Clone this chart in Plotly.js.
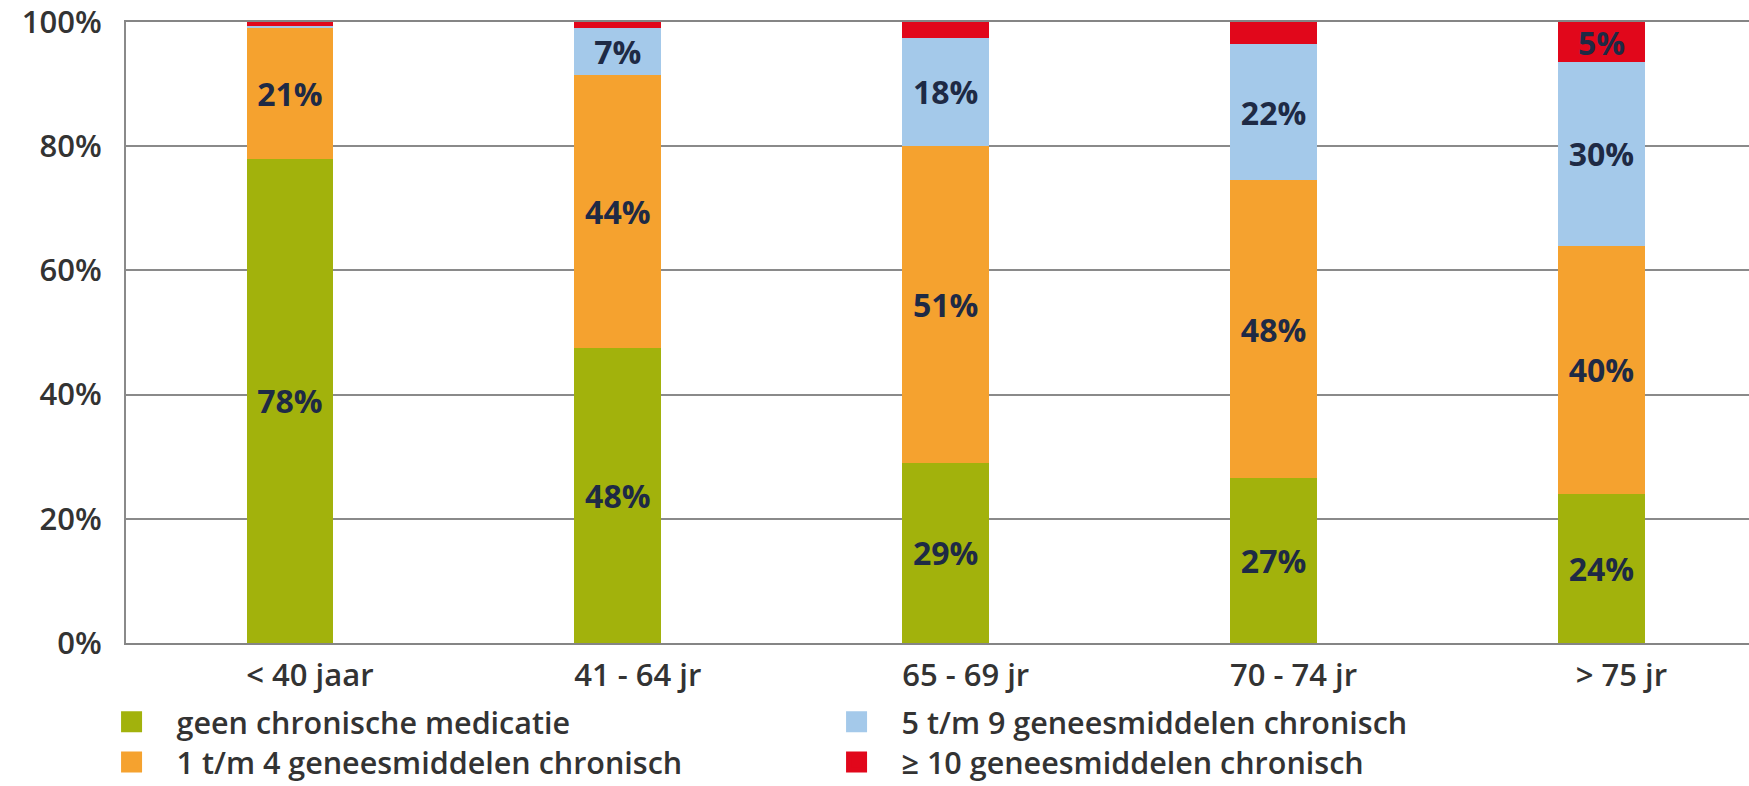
<!DOCTYPE html>
<html>
<head>
<meta charset="utf-8">
<script src="https://cdn.plot.ly/plotly-3.0.1.min.js"></script>
<style>html,body{margin:0;padding:0;background:#fff;}#chart{width:1749px;height:786px;}</style>
</head>
<body>
<div id="chart"></div>
<script>
const categories = ['< 40 jaar', '41 - 64 jr', '65 - 69 jr', '70 - 74 jr', '> 75 jr'];
const seriesNames = ['geen chronische medicatie', '1 t/m 4 geneesmiddelen chronisch', '5 t/m 9 geneesmiddelen chronisch', '\u2265 10 geneesmiddelen chronisch'];
const geen = [78, 47.5, 29, 26.5, 24];
const een_tot_vier = [21, 44, 51, 48, 40];
const vijf_tot_negen = [0.3, 7.5, 17.5, 22, 29.5];
const tien_of_meer = [0.7, 1, 2.5, 3.5, 6.5];
const geenLabels = ['78%', '48%', '29%', '27%', '24%'];
const eenLabels = ['21%', '44%', '51%', '48%', '40%'];
const vijfLabels = ['', '7%', '18%', '22%', '30%'];
const tienLabels = ['', '', '', '', '5%'];
const yTickVals = [0, 20, 40, 60, 80, 100];
const yTickText = ['0%', '20%', '40%', '60%', '80%', '100%'];

const colors = ['#a2b20c', '#f5a22f', '#a4c9ea', '#e1071b'];
const FONT = '"Open Sans", "DejaVu Sans", sans-serif';
const values = [geen, een_tot_vier, vijf_tot_negen, tien_of_meer];
const labels = [geenLabels, eenLabels, vijfLabels, tienLabels];
// legend rows: row 1 = green + blue, row 2 = orange + red
const legendOf = ['legend', 'legend2', 'legend', 'legend2'];
const xIdx = categories.map((c, j) => j);

const data = values.map((v, i) => ({
  type: 'bar',
  name: seriesNames[i],
  x: xIdx,
  y: v,
  text: labels[i],
  texttemplate: '%{text}',
  textposition: 'inside',
  insidetextanchor: 'middle',
  textangle: 0,
  constraintext: 'none',
  textfont: {family: FONT, size: 32, color: '#1e2a45', weight: 700},
  marker: {color: colors[i], line: {width: 0}},
  width: 0.265,
  showlegend: false,
  hoverinfo: 'skip'
}));

// legend entries (no visible data)
values.forEach((v, i) => {
  data.push({
    type: 'scatter', mode: 'markers',
    name: seriesNames[i],
    x: [null], y: [null],
    marker: {symbol: 'square', size: 16, color: colors[i], line: {color: colors[i], width: 5}},
    showlegend: true,
    legend: legendOf[i],
    hoverinfo: 'skip'
  });
});

const legendBase = {
  orientation: 'h',
  xanchor: 'left', yanchor: 'middle',
  traceorder: 'normal',
  itemsizing: 'trace',
  entrywidth: 630, entrywidthmode: 'pixels',
  font: {family: FONT, size: 30.5, color: '#333', weight: 600},
  itemwidth: 80,
  bgcolor: 'rgba(0,0,0,0)'
};

const layout = {
  width: 1749, height: 786,
  margin: {l: 126, r: 0, t: 22, b: 143, autoexpand: false},
  paper_bgcolor: '#fff', plot_bgcolor: '#fff',
  barmode: 'stack',
  showlegend: true,
  font: {family: FONT, color: '#333'},
  xaxis: {
    range: [-0.5, 4.45],
    tickvals: xIdx,
    ticktext: categories,
    tickfont: {family: FONT, size: 31, color: '#333', weight: 600},
    showgrid: false, zeroline: false,
    showline: true, mirror: true, linecolor: '#858585', linewidth: 2,
    ticks: '',
    ticklabelstandoff: 4,
    ticklabelshift: 20
  },
  yaxis: {
    range: [0, 100],
    tickvals: yTickVals,
    ticktext: yTickText,
    tickfont: {family: FONT, size: 31, color: '#333', weight: 600},
    showgrid: true, gridcolor: '#8a8a8a', gridwidth: 2,
    zeroline: false,
    showline: true, linecolor: '#8a8a8a', linewidth: 2,
    ticks: '', ticklabelstandoff: 16,
    ticklabeloverflow: 'allow'
  },
  legend: Object.assign({}, legendBase, {x: -0.0243, y: -0.127}),
  legend2: Object.assign({}, legendBase, {x: -0.0243, y: -0.192})
};

Plotly.newPlot('chart', data, layout, {displayModeBar: false, staticPlot: true});
</script>
</body>
</html>
